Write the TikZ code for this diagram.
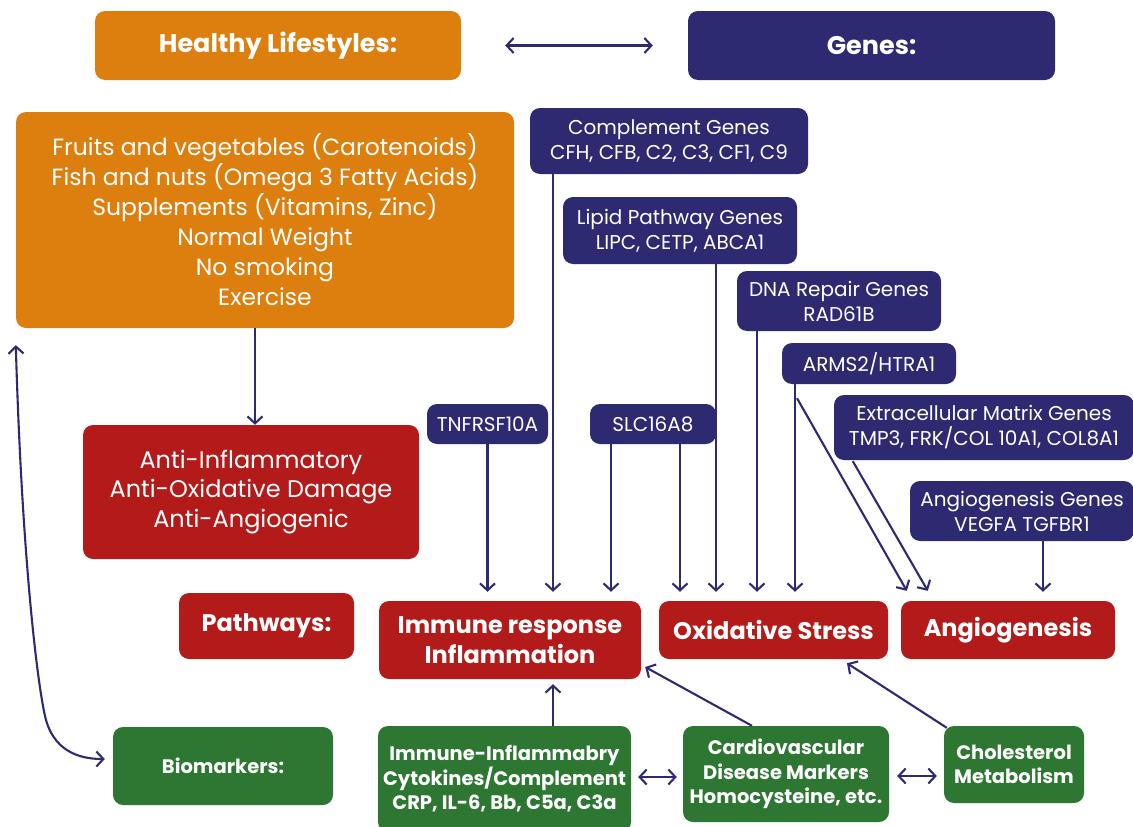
\documentclass[tikz,border=0pt]{standalone}
\usepackage{fontspec}
\setmainfont{Poppins}
\usetikzlibrary{arrows.meta,calc}
\definecolor{cOrange}{HTML}{DC7F0E}
\definecolor{cNavy}{HTML}{2E2A72}
\definecolor{cRed}{HTML}{B31B1B}
\definecolor{cGreen}{HTML}{2E7733}
\tikzset{
  box/.style={rounded corners=10pt, inner sep=0pt, text=white, align=center},
  obox/.style={box, fill=cOrange},
  nbox/.style={box, fill=cNavy},
  rbox/.style={box, fill=cRed},
  gbox/.style={box, fill=cGreen},
  fhead/.style={font=\fontsize{25.5}{30}\selectfont\bfseries},
  flife/.style={font=\fontsize{23.5}{30}\selectfont},
  fanti/.style={font=\fontsize{24}{29.5}\selectfont},
  fgene/.style={font=\fontsize{20}{25}\selectfont},
  fpath/.style={font=\fontsize{24}{30}\selectfont\bfseries},
  fbio/.style={font=\fontsize{19.5}{24.5}\selectfont\bfseries},
  arr/.style={draw=cNavy, line width=2.1pt, -{Straight Barb[length=7pt,width=15pt]}},
  darr/.style={draw=cNavy, line width=2.1pt, {Straight Barb[length=7pt,width=15pt]}-{Straight Barb[length=7pt,width=15pt]}},
}
\begin{document}
\begin{tikzpicture}[x=1pt,y=-1pt]
\useasboundingbox (0,0) rectangle (1133,827);
% top headings
\node[obox, fhead, minimum width=366pt, minimum height=69pt] (hl) at (278,45.5) {Healthy Lifestyles:};
\node[nbox, fhead, minimum width=367pt, minimum height=69pt] (genes) at (871.5,45.5) {Genes:};
% lifestyle
\node[obox, flife, minimum width=498pt, minimum height=216pt] (life) at (265,220) {Fruits and vegetables (Carotenoids)\\Fish and nuts (Omega 3 Fatty Acids)\\Supplements (Vitamins, Zinc)\\Normal Weight\\No smoking\\Exercise};
\node[rbox, fanti, minimum width=336pt, minimum height=134pt] (anti) at (251,492) {Anti-Inflammatory\\Anti-Oxidative Damage\\Anti-Angiogenic};
% genes
\node[nbox, fgene, minimum width=278pt, minimum height=66pt] (comp) at (669,141) {Complement Genes\\CFH, CFB, C2, C3, CF1, C9};
\node[nbox, fgene, minimum width=234pt, minimum height=67pt] (lipid) at (680,230.5) {Lipid Pathway Genes\\LIPC, CETP, ABCA1};
\node[nbox, fgene, minimum width=204pt, minimum height=60pt] (dna) at (839,301) {DNA Repair Genes\\RAD61B};
\node[nbox, fgene, minimum width=174pt, minimum height=41pt] (arms) at (869,363.5) {ARMS2/HTRA1};
\node[nbox, fgene, minimum width=300pt, minimum height=65pt] (ecm) at (984,427.5) {Extracellular Matrix Genes\\TMP3, FRK/COL 10A1, COL8A1};
\node[nbox, fgene, minimum width=224pt, minimum height=60pt] (angG) at (1022,511) {Angiogenesis Genes\\VEGFA TGFBR1};
\node[nbox, fgene, minimum width=121pt, minimum height=40pt] (tnf) at (487.5,424) {TNFRSF10A};
\node[nbox, fgene, minimum width=126pt, minimum height=40pt] (slc) at (653,424) {SLC16A8};
% pathways
\node[rbox, fpath, minimum width=175pt, minimum height=66pt] (path) at (266.5,626) {Pathways:};
\node[rbox, fpath, minimum width=262pt, minimum height=78pt] (imm) at (510,640) {Immune response\\Inflammation};
\node[rbox, fpath, minimum width=229pt, minimum height=58pt] (oxi) at (773.5,630) {Oxidative Stress};
\node[rbox, fpath, minimum width=214pt, minimum height=58pt] (ang) at (1008,630) {Angiogenesis};
% biomarkers
\node[gbox, fbio, minimum width=220pt, minimum height=78pt] (bio) at (223,766) {Biomarkers:};
\node[gbox, fbio, minimum width=253pt, minimum height=106pt] (iib) at (504.5,779) {Immune-Inflammabry\\Cytokines/Complement\\CRP, IL-6, Bb, C5a, C3a};
\node[gbox, fbio, minimum width=206pt, minimum height=96pt] (cvd) at (786,774) {Cardiovascular\\Disease Markers\\Homocysteine, etc.};
\node[gbox, fbio, minimum width=140pt, minimum height=77pt] (chol) at (1014,764.5) {Cholesterol\\Metabolism};
% connector start points
\coordinate (sComp) at ($(comp.south)+(-116,0)$);
\coordinate (sSlcA) at ($(slc.south)+(-42,0)$);
\coordinate (sSlcB) at ($(slc.south)+(27,0)$);
\coordinate (sLip) at ($(lipid.south)+(36,0)$);
\coordinate (sDna) at ($(dna.south)+(-82,0)$);
\coordinate (sArms) at ($(arms.south)+(-74,0)$);
\coordinate (sArmsD) at ($(arms.south)+(-72,14)$);
\coordinate (eArmsD) at ($(ang.north west)+(6,-10)$);
\coordinate (sEcm) at ($(ecm.south west)+(19,1)$);
\coordinate (eEcm) at ($(ang.north west)+(27,-10)$);
\coordinate (sAngG) at ($(angG.south)+(21,0)$);
% connectors
\draw[darr, shorten <=44pt, shorten >=35pt] (hl.east) -- (genes.west);
\draw[arr] ($(life.south)+(-10,0)$) -- ($(anti.north)+(4,0)$);
\draw[arr, shorten >=9pt] (tnf.south) -- (tnf.south |- imm.north);
\draw[arr, shorten >=9pt] (sComp) -- (sComp |- imm.north);
\draw[arr, shorten >=9pt] (sSlcA) -- (sSlcA |- imm.north);
\draw[arr, shorten >=9pt] (sSlcB) -- (sSlcB |- oxi.north);
\draw[arr, shorten >=9pt] (sLip) -- (sLip |- oxi.north);
\draw[arr, shorten >=9pt] (sDna) -- (sDna |- oxi.north);
\draw[arr, shorten >=9pt] (sArms) -- (sArms |- oxi.north);
\draw[arr] (sArmsD) -- (eArmsD);
\draw[arr] (sEcm) -- (eEcm);
\draw[arr, shorten >=9pt] (sAngG) -- (sAngG |- ang.north);
\draw[arr, shorten >=5pt] ($(iib.north)+(48.5,0)$) -- ($(imm.south)+(43,0)$);
\draw[arr] ($(cvd.north)+(-34,0)$) -- ($(imm.east)+(4,27)$);
\draw[arr] ($(chol.north west)+(3,2)$) -- ($(oxi.south)+(73.5,4)$);
\draw[darr] ($(iib.east)+(7,-2)$) -- ($(cvd.west)+(-6,3)$);
\draw[darr] ($(cvd.east)+(8,2)$) -- ($(chol.west)+(-7,11.5)$);
\draw[darr] ($(life.south west)+(0,17)$) .. controls (22,560) and (38,690) .. (46,720) .. controls (56,755) and (85,759) .. ($(bio.west)+(-8,-7)$);
\end{tikzpicture}
\end{document}
